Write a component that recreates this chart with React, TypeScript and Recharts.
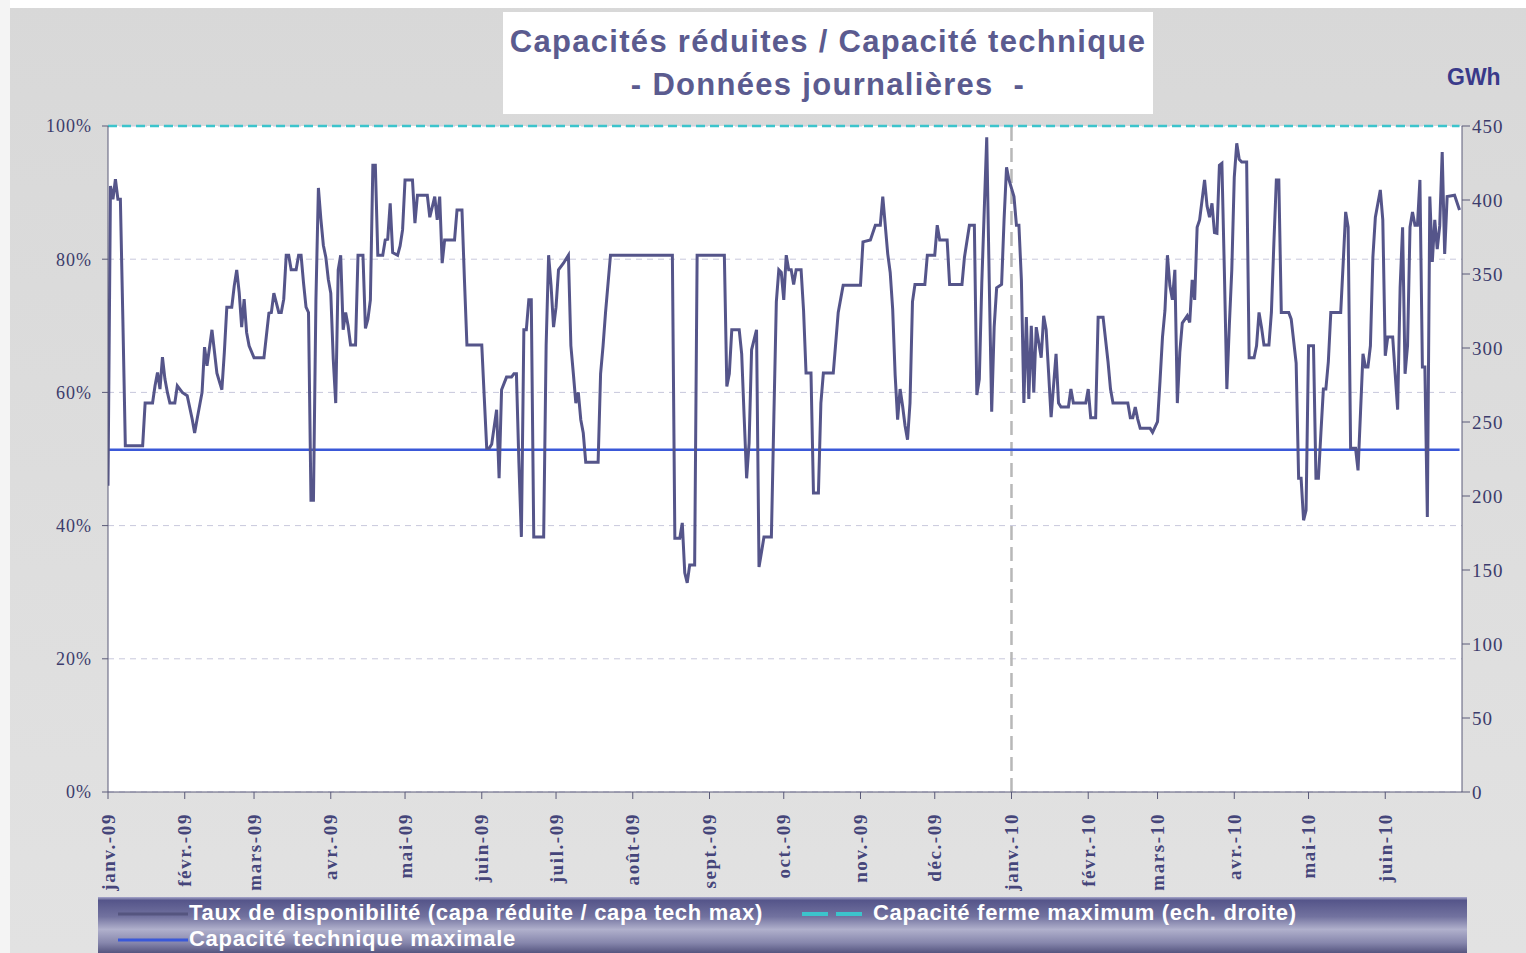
import { LineChart, Line, XAxis, YAxis, CartesianGrid, ReferenceLine } from 'recharts'

// day index since 1 Jan 2009 -> availability rate (%)
const days = [
  0, 1, 2, 3, 4, 5, 6, 7, 14, 15, 18, 19, 20, 21, 22, 23, 24, 25, 27, 28, 30, 32, 34, 35, 36, 38, 39, 40, 42, 44, 46, 47, 48, 50, 51, 52, 53, 54, 55, 56, 57, 59, 63, 65, 66, 67, 69,
  70, 71, 72, 73, 74, 76, 77, 78, 79, 80, 81, 82, 83, 84, 85, 86, 87, 88, 89, 90, 91, 92, 93, 94, 95, 96, 97, 98, 100, 101, 103, 104, 105, 106, 107, 108, 109, 111, 112, 113, 114, 115, 117, 118, 119, 120, 123, 124, 125, 129, 130, 132, 133, 134, 135, 136,
  140, 141, 143, 144, 145, 151, 152, 153, 154, 155, 157, 158, 159, 161, 163, 164, 165, 166, 167, 168, 169, 170, 171, 172, 176, 177, 178, 179, 180, 181, 182, 184, 186, 187, 188, 189, 190, 191, 192, 193, 198, 199, 200, 201, 203,
  228, 229, 231, 232, 233, 234, 235, 237, 238, 249, 250, 251, 252, 255, 256, 257, 258, 259, 260, 262, 263, 264, 265, 268, 269, 270, 271, 272, 273, 274,
  275, 276, 277, 278, 280, 281, 282, 284, 285, 287, 288, 289, 293, 295, 297, 304, 305, 308, 310, 312, 313, 315, 316, 317, 318, 319, 320, 321, 322, 323, 324, 325, 326, 330, 331, 334, 335, 336, 339, 340,
  345, 346, 348, 350, 351, 352, 353, 354, 355, 356, 357, 358, 359, 361, 362, 363, 364, 366, 367, 368, 369, 370, 371, 372, 373, 374, 375, 377, 378, 379, 380, 381, 383, 384, 385, 388, 389, 390, 395, 396, 397, 399, 400, 402, 404, 405, 406, 412,
  413, 414, 415, 416, 417, 421, 422, 424, 425, 426, 427, 428, 429, 430, 431, 432, 433, 434, 436, 437, 438, 439, 440, 441, 443, 444, 445, 446, 447, 448, 449, 450, 451, 452, 453, 454, 455, 456, 457, 458, 460, 461, 463, 464, 465, 466, 467, 469, 470, 471, 472, 473, 474, 477, 478, 480,
  481, 482, 483, 484, 485, 487, 488, 489, 490, 491, 492, 493, 494, 498, 499, 500, 501, 502, 504, 505, 506, 507, 508, 509, 510, 511, 512, 514, 515, 516, 517, 519, 520, 521, 522, 523, 524, 525, 526, 527, 528, 529, 530, 531, 532, 533, 534, 535, 536, 537, 538, 539, 540, 541, 544, 546,
]

const rates = [
  46, 91, 89, 92, 89, 89, 71, 52, 52, 58.4, 58.4, 61, 63, 60.5, 65.3, 62, 60, 58.4, 58.4, 61, 60, 59.5, 56, 53.9, 56, 60, 66.8, 64, 69.4, 62.9, 60.4, 66, 72.8, 72.8, 76, 78.4, 75, 69.8, 74, 69, 67, 65.2, 65.2, 71.9, 72, 74.9, 72,
  72, 74, 80.6, 80.6, 78.4, 78.4, 80.6, 80.6, 76.4, 72.8, 72, 43.8, 43.8, 73.9, 90.7, 86, 82.1, 80.3, 77, 74.9, 65, 58.4, 78.4, 80.6, 69.4, 72, 70, 67.1, 67.1, 80.6, 80.6, 69.6, 71, 73.9, 94.1, 94.1, 80.6, 80.6, 82.9, 83, 88.4, 81, 80.6, 82, 84.4, 91.9, 91.9, 85.4, 89.6, 89.6, 86.3, 89.4, 85.9, 89.4, 79.4, 82.9,
  82.9, 87.4, 87.4, 76.9, 67.1, 67.1, 59.3, 51.6, 51.6, 52.2, 57.4, 47.1, 60.4, 62.3, 62.3, 62.8, 62.8, 49.4, 38.3, 69.4, 69.4, 73.9, 73.9, 38.3, 38.3, 67, 80.6, 76, 69.8, 72.8, 78.4, 79.4, 80.6, 67, 62.8, 58.4, 60, 55.9, 53.9, 49.5, 49.5, 62.8, 67, 72, 80.6,
  80.6, 38.1, 38.1, 40.4, 32.9, 31.4, 34.1, 34.1, 80.6, 80.6, 60.9, 62.8, 69.4, 69.4, 65.8, 56.3, 47.1, 52.4, 66.4, 69.4, 33.8, 36, 38.3, 38.3, 56.3, 73.6, 78.4, 78, 73.9, 80.6,
  78.4, 78.4, 76.2, 78.4, 78.4, 72.3, 62.9, 62.9, 44.9, 44.9, 58.4, 62.9, 62.9, 72, 76.1, 76.1, 82.6, 82.9, 85.1, 85.1, 89.4, 80.8, 78, 72.5, 62.6, 55.9, 60.5, 58, 55, 52.9, 58.4, 73.6, 76.2, 76.2, 80.6, 80.6, 85.1, 82.9, 82.9, 76.2,
  76.2, 80.3, 85.1, 85.1, 59.6, 62, 76.4, 87.4, 98.3, 76.9, 57.1, 69.8, 75.7, 76.2, 85.9, 93.8, 91.9, 89.4, 85.1, 85.1, 76.9, 58.4, 71.3, 59, 70, 60, 69.8, 65.2, 71.5, 69.4, 62.9, 56.3, 65.8, 58.4, 57.8, 57.8, 60.5, 58.4, 58.4, 60.5, 56.2, 56.2, 71.3, 71.3, 64.6, 60.5, 58.4, 58.4,
  56.2, 56.2, 57.8, 56, 54.6, 54.6, 54, 55.6, 61.7, 68.3, 72.3, 80.6, 76, 73.9, 78.4, 58.4, 66, 70.4, 71.5, 70.5, 76.9, 73.9, 84.8, 85.9, 91.9, 88, 86.3, 88.4, 84, 83.9, 94.1, 94.4, 78.2, 60.5, 70, 78.4, 92.3, 97.4, 95, 94.6, 94.6, 65.2, 65.2, 67, 72, 69.8, 67.1, 67.1, 72, 82.4, 91.9, 91.9, 72, 72, 71, 64.4,
  47.1, 47.1, 40.8, 42.3, 67, 67, 47.1, 47.1, 53.9, 60.5, 60.5, 64.6, 72, 72, 79.4, 87.1, 84.8, 51.6, 51.6, 48.3, 57, 65.8, 63.8, 63.8, 67, 80.3, 86.3, 90.4, 85.9, 65.5, 68.3, 68.3, 62.8, 57.4, 75.7, 84.8, 62.8, 67, 84.8, 87.1, 85.1, 85.1, 91.9, 63.8, 63.8, 41.3, 89.4, 79.6, 85.9, 81.5, 85, 96.1, 80.8, 89.4, 89.6, 87.4,
]

const monthTicks = [0, 31, 59, 90, 120, 151, 181, 212, 243, 273, 304, 334, 365, 396, 424, 455, 485, 516]
const monthLabels = ['janv.-09', 'févr.-09', 'mars-09', 'avr.-09', 'mai-09', 'juin-09', 'juil.-09', 'août-09', 'sept.-09', 'oct.-09', 'nov.-09', 'déc.-09', 'janv.-10', 'févr.-10', 'mars-10', 'avr.-10', 'mai-10', 'juin-10']
const pctTicks = [0, 20, 40, 60, 80, 100]
const gwhTicks = [0, 50, 100, 150, 200, 250, 300, 350, 400, 450]

const TECH_MAX_RATE = 51.4   // % (left scale)
const FIRM_MAX_GWH = 450     // GWh (right scale)
const YEAR_BREAK = 365

const data = days.map((d, i) => ({ day: d, rate: rates[i], tech: TECH_MAX_RATE, firm: FIRM_MAX_GWH }))

const tickColor = '#3c3c6c'
const serif = '"Liberation Serif", "DejaVu Serif", serif'
const sans = '"Liberation Sans", Arial, sans-serif'

function MonthTick({ x, y, payload }: any) {
    const idx = monthTicks.indexOf(payload.value)
    return (
        <text
            x={x}
            y={y + 12}
            transform={`rotate(-90 ${x} ${y + 12})`}
            textAnchor="end"
            dominantBaseline="central"
            fill="#45457a"
            style={{ fontFamily: serif, fontWeight: 700, fontSize: 19, letterSpacing: 1.6 }}
        >
            {monthLabels[idx]}
        </text>
    )
}

function LegendBox() {
    return (
        <div style={{
            position: 'absolute', left: 98, top: 897, width: 1369, height: 56, boxSizing: 'border-box',
            background: 'linear-gradient(#a8a8cc 0%, #55558a 6%, #72729f 35%, #b0b0cc 58%, #8686ac 82%, #55557f 100%)',
            fontFamily: sans, fontWeight: 700, fontSize: 22, letterSpacing: 0.7, color: '#fff',
        }}>
            <svg width={100} height={56} style={{ position: 'absolute', left: 0, top: 0 }}>
                <line x1={20} x2={90} y1={17} y2={17} stroke="#55557f" strokeWidth={3} />
                <line x1={20} x2={90} y1={43} y2={43} stroke="#3a58d8" strokeWidth={3} />
            </svg>
            <span style={{ position: 'absolute', left: 91, top: 3 }}>Taux de disponibilité (capa réduite / capa tech max)</span>
            <svg width={80} height={30} style={{ position: 'absolute', left: 700, top: 2 }}>
                <line x1={4} x2={72} y1={15} y2={15} stroke="#3cc4cc" strokeWidth={4} strokeDasharray="26 8" />
            </svg>
            <span style={{ position: 'absolute', left: 775, top: 3 }}>Capacité ferme maximum (ech. droite)</span>
            <span style={{ position: 'absolute', left: 91, top: 29 }}>Capacité technique maximale</span>
        </div>
    )
}

export default function App() {
    return (
        <div style={{
            position: 'absolute', left: 0, top: 0, width: 1526, height: 953, overflow: 'hidden',
            background: 'linear-gradient(#d8d8d8, #e2e2e2)',
        }}>
            <div style={{ position: 'absolute', left: 0, top: 0, width: 1526, height: 8, background: '#fff' }} />
            <div style={{ position: 'absolute', left: 0, top: 0, width: 10, height: 953, background: '#f4f4f4' }} />
            <LineChart
                width={1526}
                height={953}
                data={data}
                margin={{ top: 126, left: 48, right: 4, bottom: 61 }}
                style={{ position: 'absolute', left: 0, top: 0 }}
            >
                <CartesianGrid vertical={false} fill="#ffffff" stroke="#c8c8dc" strokeDasharray="6 5" yAxisId="left" />
                <XAxis
                    dataKey="day"
                    type="number"
                    domain={[0, 547]}
                    ticks={monthTicks}
                    interval={0}
                    tick={<MonthTick />}
                    height={100}
                    stroke="#5a5a78"
                    tickSize={7}
                    allowDataOverflow
                />
                <YAxis
                    yAxisId="left"
                    domain={[0, 100]}
                    ticks={pctTicks}
                    tickFormatter={(v: number) => `${v}%`}
                    width={60}
                    stroke="#5a5a78"
                    tickSize={6}
                    tickMargin={10}
                    tick={{ fill: tickColor, fontSize: 18, fontFamily: serif, letterSpacing: 1 }}
                />
                <YAxis
                    yAxisId="right"
                    orientation="right"
                    domain={[0, 450]}
                    ticks={gwhTicks}
                    width={60}
                    stroke="#5a5a78"
                    tickSize={8}
                    tick={{ fill: tickColor, fontSize: 19, fontFamily: serif, letterSpacing: 1 }}
                />
                <ReferenceLine yAxisId="left" x={YEAR_BREAK} stroke="#b8b8b8" strokeWidth={2.5} strokeDasharray="14 7" />
                <Line
                    yAxisId="right"
                    type="linear"
                    dataKey="firm"
                    stroke="#3cc4cc"
                    strokeWidth={2.5}
                    strokeDasharray="9 5"
                    dot={false}
                    isAnimationActive={false}
                />
                <Line
                    yAxisId="left"
                    type="linear"
                    dataKey="tech"
                    stroke="#3a58d8"
                    strokeWidth={2.5}
                    dot={false}
                    isAnimationActive={false}
                />
                <Line
                    yAxisId="left"
                    type="linear"
                    dataKey="rate"
                    stroke="#55558a"
                    strokeWidth={3}
                    dot={false}
                    isAnimationActive={false}
                />
            </LineChart>
            <LegendBox />
            <div style={{
                position: 'absolute', left: 503, top: 12, width: 650, height: 102, background: '#fff',
                fontFamily: sans, fontWeight: 700, fontSize: 31, letterSpacing: 1.3, color: '#5b5b8f',
                textAlign: 'center', lineHeight: '43px', paddingTop: 8, boxSizing: 'border-box',
            }}>
                <div>Capacités réduites / Capacité technique</div>
                <div>- Données journalières&nbsp; -</div>
            </div>
            <div style={{
                position: 'absolute', left: 1447, top: 64, fontFamily: sans,
                fontWeight: 700, fontSize: 23, color: '#3a3a8a',
            }}>GWh</div>
        </div>
    )
}
